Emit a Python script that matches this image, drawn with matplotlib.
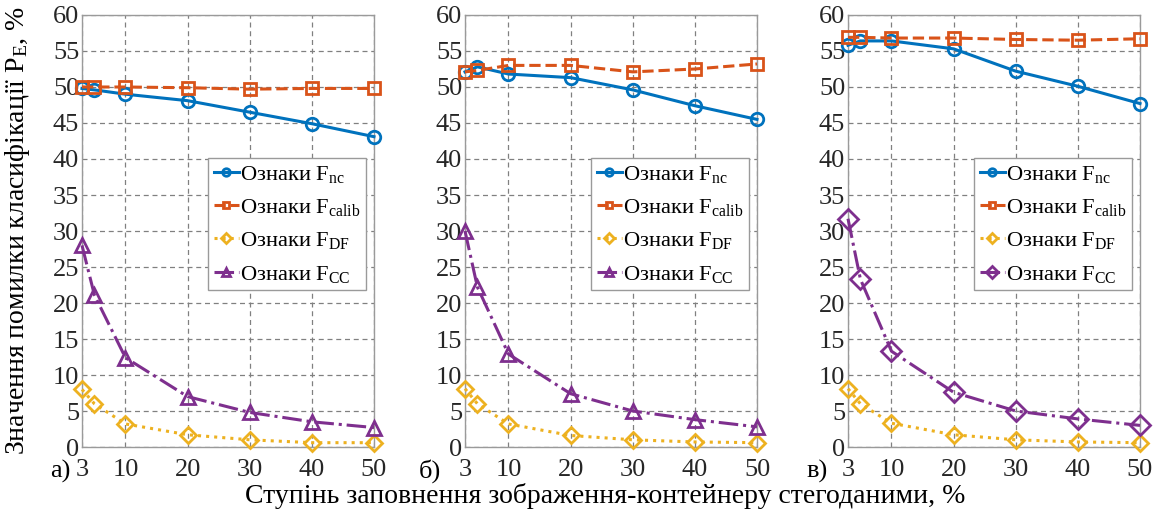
import numpy as np
import matplotlib
matplotlib.use('Agg')
from matplotlib import pyplot as plt

plt.rcParams['font.family'] = ['Liberation Serif', 'DejaVu Serif']
plt.rcParams['mathtext.fontset'] = 'custom'
plt.rcParams['mathtext.rm'] = 'Liberation Serif'
plt.rcParams['mathtext.it'] = 'Liberation Serif:italic'

# fill rate of the container image, %
fill_rate = [3, 5, 10, 20, 30, 40, 50]
x_ticks = [3, 10, 20, 30, 40, 50]
panel_tags = ['а)', 'б)', 'в)']

# classification error P_E, % (one list per feature set and panel)
f_nc = [
    [49.8, 49.6, 49.0, 48.1, 46.5, 44.9, 43.1],
    [52.1, 52.8, 51.8, 51.3, 49.6, 47.4, 45.5],
    [55.8, 56.4, 56.4, 55.3, 52.2, 50.1, 47.7],
]
f_calib = [
    [50.0, 50.0, 50.0, 49.9, 49.7, 49.8, 49.8],
    [52.1, 52.3, 53.0, 53.0, 52.1, 52.5, 53.2],
    [56.9, 56.9, 56.8, 56.8, 56.6, 56.5, 56.7],
]
f_df = [
    [8.0, 6.0, 3.2, 1.7, 1.0, 0.6, 0.6],
    [8.1, 6.0, 3.2, 1.6, 1.0, 0.7, 0.6],
    [8.1, 6.0, 3.3, 1.7, 1.0, 0.7, 0.6],
]
f_cc = [
    [28.0, 21.1, 12.4, 7.0, 4.8, 3.5, 2.7],
    [30.0, 22.2, 12.9, 7.4, 5.0, 3.8, 2.8],
    [31.7, 23.3, 13.3, 7.6, 5.0, 3.9, 3.0],
]
cc_marker = ['^', '^', 'D']

labels = [r'Ознаки $\mathrm{F}_{\mathrm{nc}}$',
          r'Ознаки $\mathrm{F}_{\mathrm{calib}}$',
          r'Ознаки $\mathrm{F}_{\mathrm{DF}}$',
          r'Ознаки $\mathrm{F}_{\mathrm{CC}}$']
colors = ['#0072BD', '#D95319', '#EDB120', '#7E2F8E']

W, H = 1163, 516
fig = plt.figure(figsize=(W / 100, H / 100), dpi=100)

lefts = [82, 465, 848]
tag_x = [60, 430, 817]
for i in range(3):
    ax = fig.add_axes([lefts[i] / W, (H - 447) / H, 292 / W, 432 / H])
    series = [f_nc[i], f_calib[i], f_df[i], f_cc[i]]
    styles = ['-', '--', ':', '-.']
    markers = ['o', 's', 'D', cc_marker[i]]
    msizes = [9, 8, 8, 10]
    for s, ls, mk, ms, c, lab in zip(series, styles, markers, msizes, colors, labels):
        ax.plot(fill_rate, s, linestyle=ls, marker=mk, color=c, lw=2.2,
                markersize=ms, markerfacecolor='none', markeredgewidth=2.0,
                label=lab, clip_on=False, zorder=3)
    ax.set_xlim(3, 50)
    ax.set_ylim(0, 60)
    ax.set_xticks(x_ticks)
    ax.set_yticks(np.arange(0, 61, 5))
    ax.tick_params(labelsize=19, length=0, colors='#262626')
    ax.tick_params(axis='x', pad=9)
    ax.tick_params(axis='y', pad=2)
    ax.grid(True, linestyle=(0, (4, 3)), color='#808080', lw=0.9)
    ax.set_axisbelow(True)
    for sp in ax.spines.values():
        sp.set_color('#9a9a9a')
        sp.set_linewidth(1.0)
    leg = ax.legend(loc='upper right', bbox_to_anchor=(0.974, 0.669), fontsize=16.2,
                    handlelength=1.1, handletextpad=0.08, borderpad=0.25,
                    labelspacing=0.55, borderaxespad=0, fancybox=False,
                    framealpha=1, markerscale=0.6)
    leg.set_zorder(5)
    leg.get_frame().set_edgecolor('#9a9a9a')
    leg.get_frame().set_linewidth(1.0)
    fig.text(tag_x[i] / W, (H - 471) / H, panel_tags[i], fontsize=19,
             ha='center', va='center')

fig.text(18 / W, (H - 447 + 216) / H,
         r'Значення помилки класифікації $\mathrm{P}_{\mathrm{E}}$, %',
         rotation=90, fontsize=20, ha='center', va='center')
fig.text(605 / W, (H - 496) / H,
         'Ступінь заповнення зображення-контейнеру стегоданими, %',
         fontsize=20, ha='center', va='center')

plt.savefig('out.png', dpi=100)
